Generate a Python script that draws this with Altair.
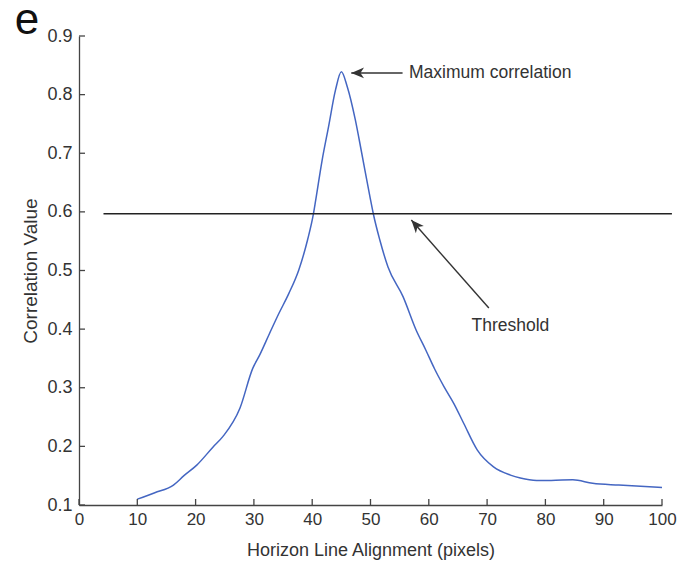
import altair as alt
import pandas as pd

# ---- data ----
x_pos = [10, 13, 16.2, 18, 20.2, 23.0, 24.7, 27.6, 29.8, 31.0, 32.7, 34.3, 36.0,
         37.7, 39.2, 40.2, 40.6, 41.7, 42.8, 44.0, 45.0, 46.0, 47.4, 48.5, 49.9,
         50.5, 51.6, 53.0, 55.6, 57.8, 59.5, 61.0, 62.6, 64.3, 66.0, 68.3, 71.1,
         74.0, 75.7, 78.5, 81.0, 84.7, 88.1, 92.6, 100]
corr = [0.110, 0.121, 0.134, 0.150, 0.168, 0.199, 0.217, 0.265, 0.333, 0.356,
        0.393, 0.427, 0.461, 0.501, 0.552, 0.596, 0.620, 0.688, 0.745, 0.808,
        0.839, 0.814, 0.757, 0.700, 0.626, 0.596, 0.552, 0.506, 0.455, 0.399,
        0.364, 0.332, 0.302, 0.273, 0.239, 0.194, 0.165, 0.151, 0.146, 0.142,
        0.142, 0.143, 0.137, 0.134, 0.130]

x_ticks = [0, 10, 20, 30, 40, 50, 60, 70, 80, 90, 100]
y_ticks = [0.1, 0.2, 0.3, 0.4, 0.5, 0.6, 0.7, 0.8, 0.9]

threshold_value = [0.597]
threshold_x = [4.2]
threshold_x2 = [101.7]

arrow_labels = ["Maximum correlation", "Threshold"]
arrow_tail_x = [55.5, 70.3]
arrow_tail_y = [0.837, 0.436]
arrow_tip_x = [46.7, 57.0]
arrow_tip_y = [0.837, 0.586]
arrow_angle = [270, 318]
label_x = [56.6, 74.0]
label_y = [0.837, 0.405]

panel_label = ["e"]

# ---- tables ----
curve_df = pd.DataFrame({"x": x_pos, "y": corr})
xt_df = pd.DataFrame({"x": x_ticks})
yt_df = pd.DataFrame({"y": y_ticks})
thr_df = pd.DataFrame({"x": threshold_x, "x2": threshold_x2, "y": threshold_value})
arr_df = pd.DataFrame({"label": arrow_labels, "tx": arrow_tail_x, "ty": arrow_tail_y,
                       "hx": arrow_tip_x, "hy": arrow_tip_y, "angle": arrow_angle,
                       "lx": label_x, "ly": label_y})

W, H = 583, 469
FONT = "Liberation Sans"
TXT = "#333333"
AX = "#444444"
XT = "Horizon Line Alignment (pixels)"
YT = "Correlation Value"

xs = alt.Scale(domain=[0, 100], nice=False, zero=False)
ys = alt.Scale(domain=[0.1, 0.9], nice=False, zero=False)
xaxis = alt.Axis(values=x_ticks, format="d", ticks=False, grid=False,
                 labelFlush=False, labelPadding=6.5, titlePadding=13.5,
                 labelFontSize=17, titleFontSize=18)
yaxis = alt.Axis(values=y_ticks, format=".1f", ticks=False, grid=False,
                 labelFlush=False, labelPadding=7, titlePadding=6.5,
                 labelFontSize=18, titleFontSize=19)


def X(f):
    return alt.X(f, type="quantitative", scale=xs, axis=xaxis, title=XT)


def Y(f):
    return alt.Y(f, type="quantitative", scale=ys, axis=yaxis, title=YT)


curve = alt.Chart(curve_df).mark_line(color="#4466c2", strokeWidth=1.5,
                                      interpolate="monotone").encode(
    x=X("x"), y=Y("y"),
)

xtick_rules = alt.Chart(xt_df).mark_rule(color=AX, strokeWidth=1.3).encode(
    x=X("x"), y=alt.value(H), y2=alt.value(H - 6),
)
ytick_rules = alt.Chart(yt_df).mark_rule(color=AX, strokeWidth=1.3).encode(
    y=Y("y"), x=alt.value(0), x2=alt.value(6),
)

thr = alt.Chart(thr_df).mark_rule(color="#222222", strokeWidth=1.5).encode(
    x=X("x"), x2="x2:Q", y=Y("y"),
)

arrow_lines = alt.Chart(arr_df).mark_rule(color="#333333", strokeWidth=1.4).encode(
    x=X("tx"), x2="hx:Q", y=Y("ty"), y2="hy:Q",
)
arrow_heads = alt.Chart(arr_df).mark_point(
    shape="M0,0 L0.42,1 L0,0.72 L-0.42,1 Z", filled=True, color="#333333",
    opacity=1, size=650, strokeWidth=0,
).encode(
    x=X("hx"), y=Y("hy"),
    angle=alt.Angle("angle:Q", scale=None),
)

label_max = alt.Chart(arr_df).transform_filter(
    alt.datum.label == "Maximum correlation"
).mark_text(font=FONT, fontSize=17.5, color=TXT, baseline="middle", align="left").encode(
    x=X("lx"), y=Y("ly"), text="label:N",
)
label_thr = alt.Chart(arr_df).transform_filter(
    alt.datum.label == "Threshold"
).mark_text(font=FONT, fontSize=17.5, color=TXT, baseline="middle", align="center").encode(
    x=X("lx"), y=Y("ly"), text="label:N",
)

panel = alt.Chart(pd.DataFrame({"t": panel_label})).mark_text(
    font=FONT, fontSize=44, color="#111111", align="center", baseline="alphabetic"
).encode(text="t:N", x=alt.value(-52), y=alt.value(-2))

chart = alt.layer(curve, thr, xtick_rules, ytick_rules, arrow_lines, arrow_heads,
                  label_max, label_thr, panel).properties(
    width=W, height=H,
    autosize=alt.AutoSizeParams(type="none"),
    padding={"left": 71, "top": 28, "right": 15, "bottom": 57},
).configure_view(stroke=None).configure_axis(
    domainColor=AX, domainWidth=1.3, labelFont=FONT, titleFont=FONT,
    labelColor=TXT, titleColor=TXT, titleFontWeight="normal",
)

chart.save("out.html", embed_options={"renderer": "svg", "actions": False})
